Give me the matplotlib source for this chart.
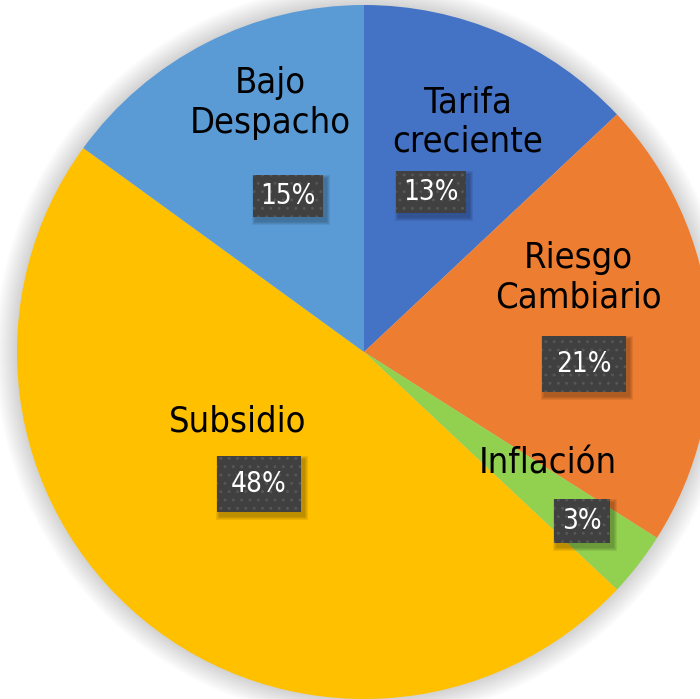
import matplotlib
matplotlib.use("Agg")
import matplotlib.pyplot as plt
from matplotlib import font_manager
from matplotlib.patches import Circle, Rectangle

# pie data
labels = ['Tarifa\ncreciente', 'Riesgo\nCambiario', 'Inflación', 'Subsidio', 'Bajo\nDespacho']
values = [13, 21, 3, 48, 15]
colors = ['#4472C4', '#ED7D31', '#92D050', '#FFC000', '#5B9BD5']

# label layout (pixel positions in the 700x699 picture)
name_pos = [(468, 122), (578, 278), (548, 463), (238, 422), (270, 103)]
pct_pos = [(431, 192), (584, 364), (582, 521), (259, 484), (288, 196)]
pct_pad = [0.25, 0.5, 0.3, 0.5, 0.25]

W, H = 700, 699
cx, cy, R = 364, 352, 347

# look for a narrow sans font, otherwise shrink the regular one
narrow = None
for f in font_manager.fontManager.ttflist:
    if 'Narrow' in f.name or f.stretch in ('condensed', 'semi-condensed'):
        if 'Sans' in f.name and 'Mono' not in f.name and f.weight in (400, 'normal', 'regular'):
            narrow = (f.name, f.stretch)
            break
if narrow:
    family, stretch = narrow
    name_size, pct_size = 26, 20
else:
    family, stretch = 'Liberation Sans', 'normal'
    name_size, pct_size = 22, 17
plt.rcParams['font.family'] = [family, 'DejaVu Sans']
plt.rcParams['font.stretch'] = stretch
plt.rcParams['hatch.linewidth'] = 0.9


def px(x, y):
    return x, H - y


fig = plt.figure(figsize=(W / 100, H / 100), dpi=100)
ax = fig.add_axes([0, 0, 1, 1])

# soft shadow around the pie
for k in range(22, 0, -1):
    ax.add_patch(Circle(px(cx, cy), R + k, color='#000000', alpha=0.007, lw=0, zorder=0))

ax.pie(values, colors=colors, startangle=90, counterclock=False,
       center=px(cx, cy), radius=R, wedgeprops=dict(linewidth=0), frame=True)
ax.set_xlim(0, W)
ax.set_ylim(0, H)
ax.set_aspect('equal')
ax.axis('off')

for name, (nx, ny) in zip(labels, name_pos):
    ax.text(*px(nx, ny), name, ha='center', va='center', fontsize=name_size,
            color='black', linespacing=1.2, zorder=5)

pct_texts = []
for v, (bx, by), pad in zip(values, pct_pos, pct_pad):
    t = ax.text(*px(bx, by), f'{v}%', ha='center', va='center', fontsize=pct_size,
                color='white', zorder=6,
                bbox=dict(boxstyle=f'square,pad={pad}', facecolor='#404040',
                          edgecolor='#575757', linewidth=0, hatch='..'))
    pct_texts.append(t)

# soft drop shadow under each percent box
fig.canvas.draw()
inv = ax.transData.inverted()
for t in pct_texts:
    bb = t.get_bbox_patch().get_window_extent()
    (x0, y0), (x1, y1) = inv.transform([(bb.x0, bb.y0), (bb.x1, bb.y1)])
    for k in range(4):
        g = 1 + k
        ax.add_patch(Rectangle((x0 + 3 - g, y0 - 4 - g), (x1 - x0) + 2 * g, (y1 - y0) + 2 * g,
                               facecolor='#000000', alpha=0.07, lw=0, zorder=5.5))

fig.savefig('out.png', dpi=100, facecolor='white')
